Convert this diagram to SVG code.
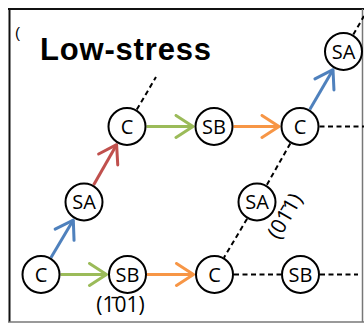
<svg xmlns="http://www.w3.org/2000/svg" width="364" height="324" viewBox="0 0 364 324">
<defs>
<style>
.node circle{fill:#fff;stroke:#000;stroke-width:2}
.node text{font-family:"Open Sans","Liberation Sans",sans-serif;font-size:20px;text-anchor:middle;fill:#000}
.arr{fill:none;stroke-width:3}
.g{stroke:#9BBB59}.o{stroke:#F79646}.b{stroke:#4F81BD}.r{stroke:#C0504D}
.dash{fill:none;stroke:#000;stroke-width:2;stroke-dasharray:5 3.5}
.lbl{font-family:"Open Sans","Liberation Sans",sans-serif;font-size:21px;fill:#000}
</style>
<marker id="mg" viewBox="-20 -13 22 26" refX="0" refY="0" markerWidth="22" markerHeight="26" markerUnits="userSpaceOnUse" orient="auto"><path d="M-17,-11 L0,0 L-17,11" fill="none" stroke="#9BBB59" stroke-width="3" stroke-linejoin="round" stroke-linecap="round"/></marker>
<marker id="mo" viewBox="-20 -13 22 26" refX="0" refY="0" markerWidth="22" markerHeight="26" markerUnits="userSpaceOnUse" orient="auto"><path d="M-17,-11 L0,0 L-17,11" fill="none" stroke="#F79646" stroke-width="3" stroke-linejoin="round" stroke-linecap="round"/></marker>
<marker id="mb" viewBox="-20 -13 22 26" refX="0" refY="0" markerWidth="22" markerHeight="26" markerUnits="userSpaceOnUse" orient="auto"><path d="M-17,-11 L0,0 L-17,11" fill="none" stroke="#4F81BD" stroke-width="3" stroke-linejoin="round" stroke-linecap="round"/></marker>
<marker id="mr" viewBox="-20 -13 22 26" refX="0" refY="0" markerWidth="22" markerHeight="26" markerUnits="userSpaceOnUse" orient="auto"><path d="M-17,-11 L0,0 L-17,11" fill="none" stroke="#C0504D" stroke-width="3" stroke-linejoin="round" stroke-linecap="round"/></marker>
</defs>
<rect width="364" height="324" fill="#fff"/>
<g id="frame">
<line x1="8" y1="9" x2="364" y2="9" stroke="#111" stroke-width="2"/>
<line x1="9.5" y1="8" x2="9.5" y2="322" stroke="#111" stroke-width="2"/>
<line x1="8" y1="322" x2="364" y2="322" stroke="#777" stroke-width="1.5"/>
<line x1="362.5" y1="9" x2="362.5" y2="322" stroke="#777" stroke-width="1.5"/>
</g>
<text x="15" y="38" font-family="Liberation Sans, sans-serif" font-size="15" fill="#000">(</text>
<text id="title" x="40" y="60" font-family="Liberation Sans, Arial, sans-serif" font-size="31" font-weight="bold" textLength="171" lengthAdjust="spacing">Low-stress</text>
<g id="connectors">
<line class="arr b" x1="50.9" y1="257.7" x2="73.3" y2="220.1" marker-end="url(#mb)"/>
<line class="arr r" x1="93.6" y1="185.1" x2="116.6" y2="144.7" marker-end="url(#mr)"/>
<line class="arr g" x1="60.5" y1="274.5" x2="106.5" y2="274.5" marker-end="url(#mg)"/>
<line class="arr o" x1="147" y1="274.5" x2="193.5" y2="274.5" marker-end="url(#mo)"/>
<line class="arr g" x1="146.5" y1="126.5" x2="193" y2="126.5" marker-end="url(#mg)"/>
<line class="arr o" x1="233.5" y1="126.5" x2="279" y2="126.5" marker-end="url(#mo)"/>
<line class="arr b" x1="309.8" y1="109.6" x2="333" y2="69.7" marker-end="url(#mb)"/>
<line class="dash" x1="136.8" y1="109.6" x2="156" y2="77"/>
<line class="dash" x1="353.3" y1="34.6" x2="364" y2="16"/>
<line class="dash" x1="319.5" y1="126.5" x2="364" y2="126.5"/>
<line class="dash" x1="290.3" y1="143.4" x2="266.7" y2="185.1"/>
<line class="dash" x1="247.1" y1="218.8" x2="223.9" y2="257.7"/>
<line class="dash" x1="234" y1="274.5" x2="281" y2="274.5"/>
<line class="dash" x1="320" y1="274.5" x2="358" y2="274.5"/>
</g>
<g id="C1" class="node"><circle cx="41" cy="274.5" r="18.5"/><text x="41" y="281.5">C</text></g>
<g id="SB1" class="node"><circle cx="127.5" cy="274.5" r="18.5"/><text x="127.5" y="281.5">SB</text></g>
<g id="C2" class="node"><circle cx="214.5" cy="274.5" r="18.5"/><text x="214.5" y="281.5">C</text></g>
<g id="SB2" class="node"><circle cx="300.5" cy="274.5" r="18.5"/><text x="300.5" y="281.5">SB</text></g>
<g id="SA1" class="node"><circle cx="84" cy="202" r="18.5"/><text x="84" y="209">SA</text></g>
<g id="SA2" class="node"><circle cx="257" cy="202" r="18.5"/><text x="257" y="209">SA</text></g>
<g id="C3" class="node"><circle cx="127" cy="126.5" r="18.5"/><text x="127" y="133.5">C</text></g>
<g id="SB3" class="node"><circle cx="214" cy="126.5" r="18.5"/><text x="214" y="133.5">SB</text></g>
<g id="C4" class="node"><circle cx="300" cy="126.5" r="18.5"/><text x="300" y="133.5">C</text></g>
<g id="SA3" class="node"><circle cx="343.5" cy="51.5" r="18.5"/><text x="343.5" y="58.5">SA</text></g>
<text class="lbl" x="120.5" y="312" text-anchor="middle">(1̄01)</text>
<text class="lbl" transform="translate(285,216) rotate(-60)" x="0" y="7" text-anchor="middle">(01̄1)</text>
</svg>
